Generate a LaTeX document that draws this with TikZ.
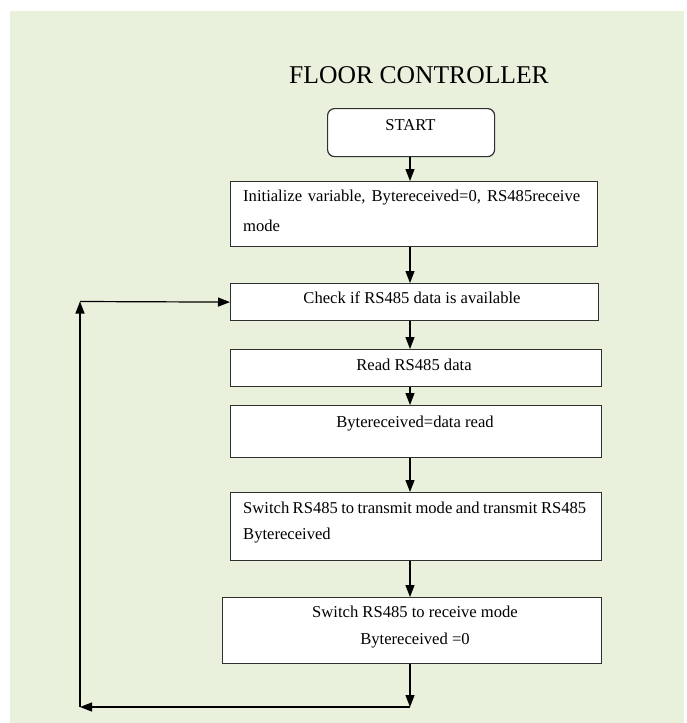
\documentclass[tikz,border=0pt]{standalone}
\usepackage{fontspec}
\setmainfont{Liberation Serif}
\usetikzlibrary{arrows.meta}
\definecolor{bggreen}{HTML}{E9F0DC}
\definecolor{edge}{HTML}{303030}
\begin{document}
\begin{tikzpicture}[x=1pt,y=-1pt,
  box/.style={draw=edge,line width=1.2pt,fill=white,inner sep=0pt,anchor=north west},
  txt/.style={inner sep=0pt,font=\fontsize{16.6}{19}\selectfont},
  arr/.style={draw=black,line width=1.2pt,-{Triangle[length=12pt,width=9pt]}},
  ln/.style={draw=black,line width=1.2pt}]
\useasboundingbox (0,0) rectangle (686,723);
\fill[bggreen] (10,11) rectangle (684,723);
\node[inner sep=0pt,font=\fontsize{25.6}{30}\selectfont] (title) at (419,75) {FLOOR CONTROLLER};
% boxes
\node[box,rounded corners=7pt,minimum width=167pt,minimum height=48pt] (start) at (327,108) {};
\node[box,minimum width=367pt,minimum height=65pt] (b1) at (230,181) {};
\node[box,minimum width=368pt,minimum height=37pt] (b2) at (230,283) {};
\node[box,minimum width=371pt,minimum height=37pt] (b3) at (230,349) {};
\node[box,minimum width=371pt,minimum height=52pt] (b4) at (230,405) {};
\node[box,minimum width=371pt,minimum height=68pt] (b5) at (230,492) {};
\node[box,minimum width=379pt,minimum height=66pt] (b6) at (222,597) {};
% texts
\node[txt] (tstart) at (410.5,125) {START};
\node[txt,anchor=west] (t1a) at (243,198) {\makebox[337pt][s]{Initialize variable, Bytereceived=0, RS485receive}};
\node[txt,anchor=west] (t1b) at (243,226) {mode};
\node[txt] (t2) at (412,298) {Check if RS485 data is available};
\node[txt] (t3) at (414,365) {Read RS485 data};
\node[txt] (t4) at (415,424) {Bytereceived=data read};
\node[txt,anchor=west] (t5a) at (243,508) {\makebox[343pt][s]{Switch RS485 to transmit mode and transmit RS485}};
\node[txt,anchor=west] (t5b) at (243,536) {Bytereceived};
\node[txt] (t6a) at (415,612) {Switch RS485 to receive mode};
\node[txt] (t6b) at (415,641) {Bytereceived =0};
% connectors
\coordinate (bot) at (410,707);
\coordinate (corner) at (80,707);
\coordinate (top) at (80,301.5);
\draw[arr] (start.south -| bot) -- (b1.north -| bot);
\draw[arr] (b1.south -| bot) -- (b2.north -| bot);
\draw[arr] (b2.south -| bot) -- (b3.north -| bot);
\draw[arr] (b3.south -| bot) -- (b4.north -| bot);
\draw[arr] (b4.south -| bot) -- (b5.north -| bot);
\draw[arr] (b5.south -| bot) -- (b6.north -| bot);
\draw[arr] (b6.south -| bot) -- (bot);
\draw[arr] (bot) -- (corner);
\draw[arr] (corner) -- (top);
\draw[arr] (top) -- (b2.west);
\end{tikzpicture}
\end{document}
